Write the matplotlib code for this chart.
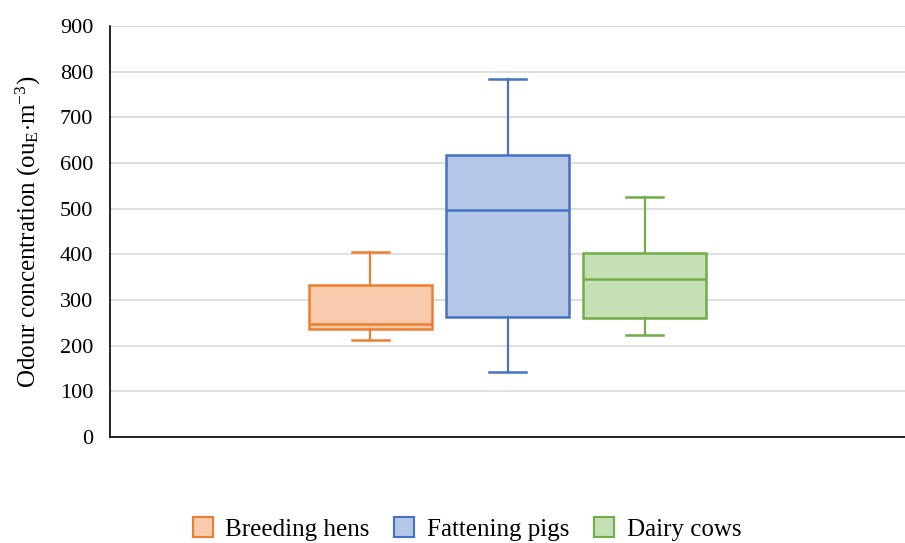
import matplotlib.pyplot as plt
from matplotlib.patches import Patch

plt.rcParams['font.family'] = ['Liberation Serif', 'DejaVu Serif']
plt.rcParams['mathtext.fontset'] = 'custom'
plt.rcParams['mathtext.rm'] = 'Liberation Serif'
plt.rcParams['mathtext.it'] = 'Liberation Serif:italic'

# box statistics
groups = ['Breeding hens', 'Fattening pigs', 'Dairy cows']
whisker_low = [212, 143, 224]
q1 = [236, 262, 260]
medians = [247, 498, 345]
q3 = [333, 617, 404]
whisker_high = [405, 783, 525]

edge_colors = ['#ED7D31', '#4472C4', '#70AD47']
fill_colors = ['#F8CBAD', '#B4C7E7', '#C5E0B4']

stats = []
for i in range(len(groups)):
    stats.append({'label': groups[i], 'whislo': whisker_low[i], 'q1': q1[i],
                  'med': medians[i], 'q3': q3[i], 'whishi': whisker_high[i],
                  'fliers': []})

fig = plt.figure(figsize=(9.05, 5.43), dpi=100)
ax = fig.add_axes([110 / 905, 1 - 437 / 543, 795 / 905, 411 / 543])

positions = [-1, 0, 1]
for i, s in enumerate(stats):
    c = edge_colors[i]
    ax.bxp([s], positions=[positions[i]], widths=0.9, capwidths=0.27,
           showfliers=False, patch_artist=True,
           boxprops=dict(facecolor=fill_colors[i], edgecolor=c, linewidth=1.8),
           medianprops=dict(color=c, linewidth=1.8),
           whiskerprops=dict(color=c, linewidth=1.6),
           capprops=dict(color=c, linewidth=1.8))

ax.set_xlim(-2.9, 2.9)
ax.set_ylim(0, 900)
ax.set_yticks(range(0, 901, 100))
ax.set_xticks([])
ax.tick_params(axis='y', length=0, labelsize=16, pad=12)
ax.yaxis.grid(True, color='#d9d9d9', linewidth=1.2)
ax.set_axisbelow(True)
for side in ['top', 'right']:
    ax.spines[side].set_visible(False)
ax.spines['left'].set_linewidth(1.2)
ax.spines['bottom'].set_linewidth(1.2)

ax.set_ylabel(r'Odour concentration (ou$_{\mathrm{E}}$$\cdot$m$^{-3}$)',
              fontsize=18, labelpad=12)

handles = [Patch(facecolor=fill_colors[i], edgecolor=edge_colors[i], linewidth=1.5)
           for i in range(len(groups))]
fig.legend(handles, groups, loc='center', bbox_to_anchor=(0.516, 1 - 529 / 543),
           ncol=3, frameon=False, fontsize=18, handlelength=0.8, handleheight=0.8,
           columnspacing=1.0, handletextpad=0.5)

fig.savefig('out.png', dpi=100)
